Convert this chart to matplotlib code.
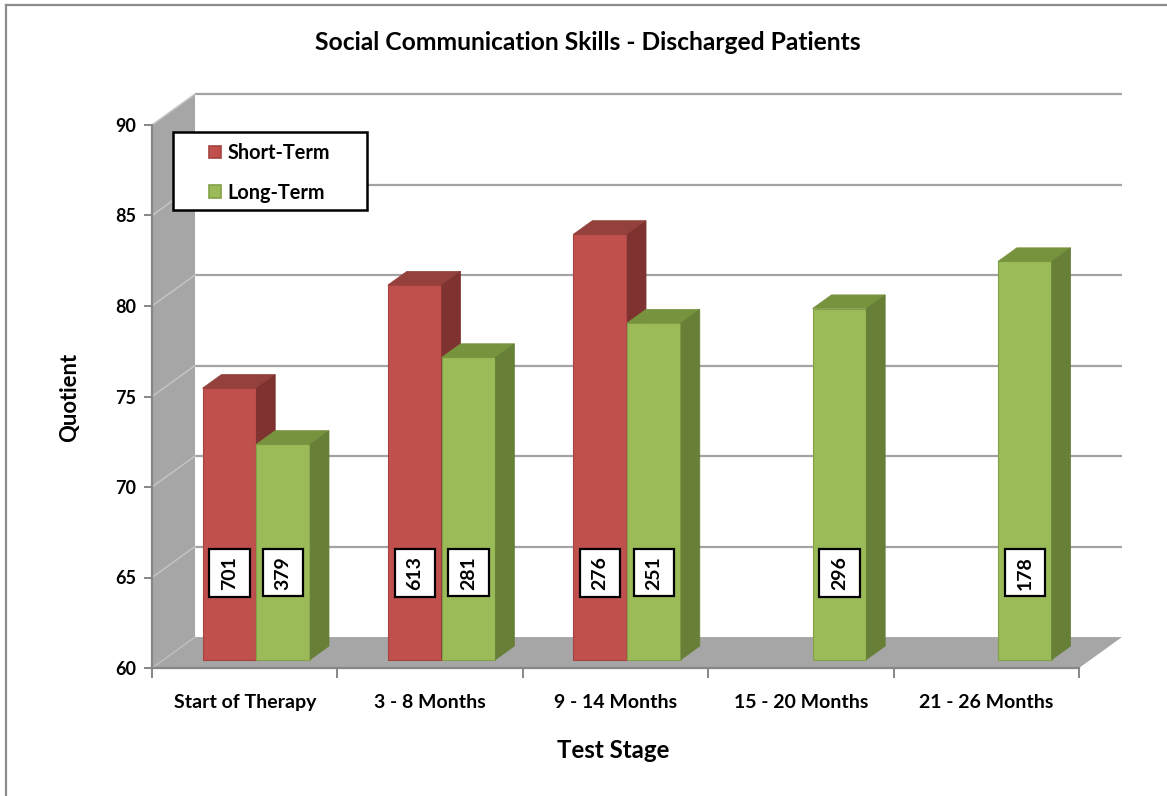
import numpy as np
import matplotlib
matplotlib.use("Agg")
import matplotlib.pyplot as plt
from matplotlib.patches import Polygon, Patch, Rectangle
from matplotlib.lines import Line2D
from matplotlib.path import Path

# ---------------- data ----------------
categories = ["Start of Therapy", "3 - 8 Months", "9 - 14 Months",
              "15 - 20 Months", "21 - 26 Months"]
short_term = [75.0, 80.7, 83.5, np.nan, np.nan]
long_term = [71.9, 76.7, 78.6, 79.4, 82.0]
short_n = [701, 613, 276, None, None]
long_n = [379, 281, 251, 296, 178]
yticks = [60, 65, 70, 75, 80, 85, 90]

# ---------------- style ----------------
plt.rcParams['font.family'] = ['Lato', 'DejaVu Sans']
plt.rcParams['font.weight'] = 'bold'

W, H = 1167, 796
fig = plt.figure(figsize=(W / 100, H / 100), dpi=100)
ax = fig.add_axes([152 / W, 1 - 668 / H, (1079 - 152) / W, (668 - 125) / H])
ax.set_xlim(0, 5)
ax.set_ylim(60, 90)

DX, DY = 0.232, 1.71     # full depth of the 3-D box in data units
F0, BD = 0.27, 0.44      # bar front plane & bar depth (fractions of full depth)
BW = 0.29                # bar width
LABEL_Q = 64.8           # level of the count labels

wall = '#A6A6A6'
grid_c = '#A3A3A3'
axis_c = '#868686'

series = [
    dict(vals=short_term, n=short_n, sign=-1, front='#C0504D', top='#94403C',
         side='#7E3331', edge='#A6433F', name='Short-Term', z=3),
    dict(vals=long_term, n=long_n, sign=1, front='#9BBB59', top='#77933D',
         side='#677F37', edge='#84A048', name='Long-Term', z=4),
]


def label_box(x0, y0, width, height, mutation_size):
    pa = 0.35 * mutation_size   # padding along the text
    pc = 0.6 * mutation_size    # padding across the text
    return Path([(x0 - pa, y0 - pc), (x0 + width + pa, y0 - pc),
                 (x0 + width + pa, y0 + height + pc), (x0 - pa, y0 + height + pc),
                 (x0 - pa, y0 - pc)], closed=True)


# side wall
ax.add_patch(Polygon([(0, 60), (DX, 60 + DY), (DX, 90 + DY), (0, 90)],
                     closed=True, facecolor=wall, edgecolor='none',
                     clip_on=False, zorder=0))
# floor
ax.add_patch(Polygon([(0, 60), (5, 60), (5 + DX, 60 + DY), (DX, 60 + DY)],
                     closed=True, facecolor=wall, edgecolor='none',
                     clip_on=False, zorder=0.5))
# gridlines on back wall and side wall
for y in yticks[1:]:
    ax.plot([DX, 5 + DX], [y + DY, y + DY], color=grid_c, lw=1.6,
            clip_on=False, zorder=1, solid_capstyle='butt')
    ax.plot([0, DX], [y, y + DY], color='#C4C4C4', lw=1.1,
            clip_on=False, zorder=1)
ax.plot([0, DX], [60, 60 + DY], color='#BDBDBD', lw=1.1, clip_on=False, zorder=1)

# bars
base = 60 + F0 * DY
bdx, bdy = BD * DX, BD * DY
for s in series:
    for i, v in enumerate(s['vals']):
        if np.isnan(v):
            continue
        xc = i + 0.5 + F0 * DX + s['sign'] * BW / 2
        xl, xr = xc - BW / 2, xc + BW / 2
        top = base + (v - 60)
        ax.bar(xc, v - 60, bottom=base, width=BW, color=s['front'],
               edgecolor=s['edge'], linewidth=0.8, zorder=s['z'], clip_on=False)
        ax.add_patch(Polygon([(xl, top), (xr, top), (xr + bdx, top + bdy),
                              (xl + bdx, top + bdy)], closed=True,
                             facecolor=s['top'], edgecolor=s['top'], lw=0.5,
                             zorder=s['z'], clip_on=False))
        ax.add_patch(Polygon([(xr, base), (xr, top), (xr + bdx, top + bdy),
                              (xr + bdx, base + bdy)], closed=True,
                             facecolor=s['side'], edgecolor=s['side'], lw=0.5,
                             zorder=s['z'], clip_on=False))
        ax.text(xc, LABEL_Q + F0 * DY, str(s['n'][i]), rotation=90,
                ha='center', va='center', fontsize=14, color='black',
                zorder=10,
                bbox=dict(boxstyle=label_box, facecolor='white',
                          edgecolor='black', linewidth=1.6))

# axes / ticks
for sp in ['top', 'right']:
    ax.spines[sp].set_visible(False)
for sp in ['left', 'bottom']:
    ax.spines[sp].set_color(axis_c)
    ax.spines[sp].set_linewidth(1.6)
    ax.spines[sp].set_zorder(2)
ax.set_yticks(yticks)
ax.tick_params(axis='y', direction='out', length=5.5, width=1.4,
               color=axis_c, pad=6, labelsize=13)
ax.set_xticks(range(6))
ax.set_xticklabels([])
ax.set_xticks(np.arange(5) + 0.5, minor=True)
ax.set_xticklabels(categories, minor=True)
ax.tick_params(axis='x', which='major', direction='out', length=7,
               width=1.4, color=axis_c)
ax.tick_params(axis='x', which='minor', length=0, pad=19, labelsize=14)
ax.set_facecolor('none')

# legend (frame drawn separately so the entries can be indented)
ax.add_patch(Rectangle((173 / W, 1 - 210 / H), (367 - 173) / W, (210 - 132) / H,
                       transform=fig.transFigure, facecolor='white',
                       edgecolor='black', linewidth=1.8, clip_on=False,
                       zorder=19))
handles = [Patch(facecolor=s['front'], edgecolor=s['edge'], linewidth=1.2)
           for s in series]
leg = ax.legend(handles, [s['name'] for s in series], loc='upper left',
                bbox_to_anchor=(209 / W, 1 - 143 / H),
                bbox_transform=fig.transFigure, frameon=False,
                fontsize=14.3, handlelength=0.62, handleheight=0.62,
                handletextpad=0.3, labelspacing=1.0, borderpad=0,
                borderaxespad=0)
leg.set_zorder(20)

# titles
fig.text(588 / W, 1 - 42 / H, 'Social Communication Skills - Discharged Patients',
         ha='center', va='center', fontsize=17.7)
fig.text(70 / W, 1 - 397 / H, 'Quotient', rotation=90, ha='center',
         va='center', fontsize=15.8)
fig.text(613 / W, 1 - 750 / H, 'Test Stage', ha='center', va='center',
         fontsize=17.3)

# figure border (top & left)
fig.add_artist(Line2D([6 / W, 1], [1 - 5 / H, 1 - 5 / H], color='#8C8C8C',
                      lw=1.6, transform=fig.transFigure))
fig.add_artist(Line2D([6 / W, 6 / W], [0, 1 - 5 / H], color='#8C8C8C',
                      lw=1.6, transform=fig.transFigure))

fig.savefig('out.png', dpi=100)
